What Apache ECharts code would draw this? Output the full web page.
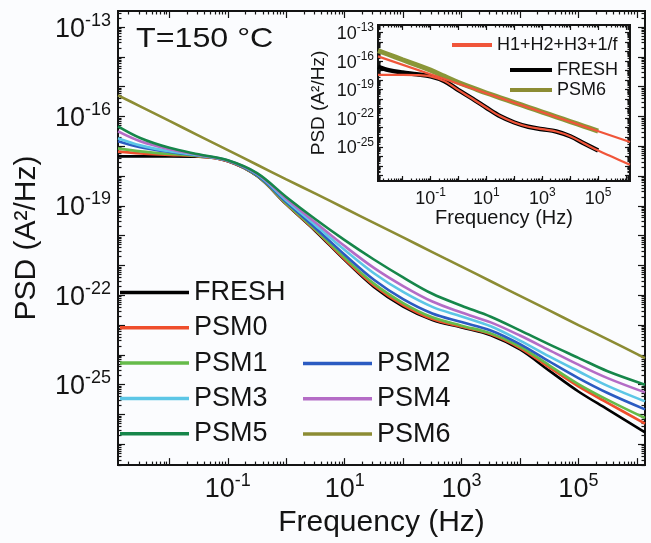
<!DOCTYPE html>
<html><head><meta charset="utf-8">
<script src="https://cdn.jsdelivr.net/npm/echarts@6/dist/echarts.min.js"></script>
<style>html,body{margin:0;padding:0;background:#fbfcfe}#c{width:651px;height:543px}</style>
</head><body><div id="c"></div>
<script>
// ---- data (log10 of frequency in Hz, log10 of PSD in A^2/Hz) ----
const logFreq = [-2.88,-2.5,-2,-1.5,-1,-0.5,0,0.5,1,1.5,2,2.5,3,3.5,4,4.5,5,5.5,6.14];
const fresh = [-17.34,-17.34,-17.34,-17.35,-17.5,-18.0,-18.95,-19.85,-20.82,-21.72,-22.38,-22.83,-23.08,-23.34,-23.82,-24.53,-25.23,-25.83,-26.6];
const psm0  = [-17.18,-17.24,-17.29,-17.34,-17.50,-17.99,-18.94,-19.83,-20.79,-21.67,-22.33,-22.80,-23.06,-23.31,-23.77,-24.42,-25.06,-25.61,-26.31];
const psm1  = [-17.07,-17.17,-17.26,-17.33,-17.49,-17.99,-18.92,-19.80,-20.74,-21.61,-22.26,-22.74,-23.02,-23.28,-23.72,-24.35,-24.98,-25.51,-26.12];
const psm2  = [-16.83,-17.03,-17.19,-17.31,-17.49,-17.97,-18.87,-19.74,-20.64,-21.48,-22.13,-22.61,-22.90,-23.18,-23.64,-24.22,-24.78,-25.28,-25.83];
const psm3  = [-16.73,-16.97,-17.17,-17.30,-17.48,-17.94,-18.82,-19.65,-20.48,-21.26,-21.89,-22.39,-22.71,-23.04,-23.52,-24.05,-24.55,-25.04,-25.56];
const psm4  = [-16.50,-16.83,-17.10,-17.29,-17.48,-17.92,-18.76,-19.56,-20.35,-21.08,-21.69,-22.21,-22.58,-22.91,-23.35,-23.84,-24.33,-24.78,-25.26];
const psm5  = [-16.33,-16.72,-17.05,-17.27,-17.47,-17.90,-18.70,-19.45,-20.15,-20.80,-21.40,-21.95,-22.35,-22.72,-23.18,-23.65,-24.10,-24.55,-25.00];
const psm6  = [-15.29,-15.66,-16.15,-16.64,-17.13,-17.62,-18.11,-18.59,-19.08,-19.57,-20.06,-20.55,-21.04,-21.53,-22.02,-22.51,-23.00,-23.48,-24.11];

// inset
const insetFreq  = [-2.88,-2.5,-2,-1.5,-1,-0.5,0,0.5,1,1.5,2,2.5,3,3.5,4,4.5,5];
const insetFresh = [-16.6,-16.95,-17.2,-17.38,-17.6,-18.1,-19.05,-19.95,-20.9,-21.8,-22.45,-22.9,-23.15,-23.4,-23.9,-24.65,-25.4];
const insetPsm6  = [-14.9,-15.3,-15.85,-16.4,-16.95,-17.6,-18.25,-18.8,-19.35,-19.85,-20.35,-20.85,-21.35,-21.85,-22.35,-22.85,-23.35];
const fitLowerFreq = [-2.88,-2.5,-2,-1.5,-1,-0.5,0,0.5,1,1.5,2,2.5,3,3.5,4,4.5,5,5.5,6.14];
const fitLower = [-17.45,-17.45,-17.45,-17.47,-17.6,-18.1,-19.05,-19.95,-20.9,-21.8,-22.45,-22.9,-23.15,-23.4,-23.9,-24.65,-25.4,-26.05,-26.9];
const fitUpperFreq = [-2.88,1.5,6.14];
const fitUpper = [-15.5,-19.87,-24.5];

// tick labels (exponents)
const mainXLabels = [-1,1,3,5];
const mainYLabels = [-13,-16,-19,-22,-25];
const insetXLabels = [-1,1,3,5];
const insetYLabels = [-13,-16,-19,-22,-25];

// ---- helpers ----
const FONT = '"Liberation Sans", Arial, Helvetica, sans-serif';
const INK = '#141414';
const zip = (xs, ys) => xs.map((x, i) => [x, ys[i]]);
function decades(lo, hi){ const r=[]; for(let n=Math.ceil(lo); n<=Math.floor(hi); n++) r.push(n); return r; }
function minors(lo, hi){ const r=[]; for(let n=Math.floor(lo); n<=Math.ceil(hi); n++){ for(let k=2;k<=9;k++){ const v=n+Math.log10(k); if(v>lo && v<hi) r.push(v);} } return r; }

const MX=[-2.88,6.14], MY=[-27.7,-12.46];
const IX=[-2.88,6.14], IY=[-28.6,-12.2];

function axis(grid, pos, ext, ticks, len, lw, extra){
  return Object.assign({
    type:'value', gridIndex:grid, position:pos, min:ext[0], max:ext[1],
    splitLine:{show:false},
    axisLine:{show:true, onZero:false, lineStyle:{color:INK, width:lw}},
    axisTick:{show:true, inside:true, length:len, customValues:ticks, lineStyle:{color:INK, width:1.2}},
    axisLabel:{show:false}
  }, extra||{});
}
function supLabel(vals, bs, ss, margin){
  return {show:true, customValues:vals, margin:margin,
    formatter: v => '{b|10}{s|' + Math.round(v) + '}',
    rich:{ b:{fontSize:bs, lineHeight:Math.round(bs*1.15), fontFamily:FONT, color:INK, verticalAlign:'bottom'},
           s:{fontSize:ss, lineHeight:Math.round(ss*0.95), fontFamily:FONT, color:INK, verticalAlign:'top'} } };
}

const xAxes = [
  axis(0,'bottom',MX,decades(MX[0],MX[1]),7,2,{axisLabel:supLabel(mainXLabels,27,18,7),
     name:'Frequency (Hz)', nameLocation:'middle', nameGap:41, nameTextStyle:{fontSize:30, fontFamily:FONT, color:INK}}),
  axis(0,'bottom',MX,minors(MX[0],MX[1]),3.5,2),
  axis(0,'top',MX,decades(MX[0],MX[1]),7,2),
  axis(0,'top',MX,minors(MX[0],MX[1]),3.5,2),
  axis(1,'bottom',IX,decades(IX[0],IX[1]),5,2,{axisLabel:supLabel(insetXLabels,18,12,6),
     name:'Frequency (Hz)', nameLocation:'middle', nameGap:27, nameTextStyle:{fontSize:20, fontFamily:FONT, color:INK}}),
  axis(1,'bottom',IX,minors(IX[0],IX[1]),2.5,2),
  axis(1,'top',IX,decades(IX[0],IX[1]),5,2),
  axis(1,'top',IX,minors(IX[0],IX[1]),2.5,2)
];
const yAxes = [
  axis(0,'left',MY,decades(MY[0],MY[1]),7,2,{axisLabel:supLabel(mainYLabels,27,18,7),
     name:'PSD (A²/Hz)', nameLocation:'middle', nameGap:76, nameTextStyle:{fontSize:30, fontFamily:FONT, color:INK}}),
  axis(0,'left',MY,minors(MY[0],MY[1]),3.5,2),
  axis(0,'right',MY,decades(MY[0],MY[1]),7,2),
  axis(0,'right',MY,minors(MY[0],MY[1]),3.5,2),
  axis(1,'left',IY,decades(IY[0],IY[1]),5,2,{axisLabel:supLabel(insetYLabels,18,12,4),
     name:'PSD (A²/Hz)', nameLocation:'middle', nameGap:50, nameTextStyle:{fontSize:19, fontFamily:FONT, color:INK}}),
  axis(1,'left',IY,minors(IY[0],IY[1]),2.5,2),
  axis(1,'right',IY,decades(IY[0],IY[1]),5,2),
  axis(1,'right',IY,minors(IY[0],IY[1]),2.5,2)
];

function line(name, xs, ys, color, width, grid){
  return {type:'line', name:name, xAxisIndex:grid===1?4:0, yAxisIndex:grid===1?4:0,
    data:zip(xs,ys), smooth:0.35, showSymbol:false, symbol:'none',
    lineStyle:{color:color, width:width}, itemStyle:{color:color}, silent:true};
}
const C = {FRESH:'#000000', PSM0:'#ef4e2c', PSM1:'#66bb4a', PSM2:'#2b5bc2', PSM3:'#5cc6e6', PSM4:'#b46cc6', PSM5:'#16864a', PSM6:'#8c8c34'};

const series = [
  line('FRESH',logFreq,fresh,C.FRESH,2.6,0),
  line('PSM0',logFreq,psm0,C.PSM0,2.6,0),
  line('PSM1',logFreq,psm1,C.PSM1,2.6,0),
  line('PSM2',logFreq,psm2,C.PSM2,2.6,0),
  line('PSM3',logFreq,psm3,C.PSM3,2.6,0),
  line('PSM4',logFreq,psm4,C.PSM4,2.6,0),
  line('PSM5',logFreq,psm5,C.PSM5,2.6,0),
  line('PSM6',logFreq,psm6,C.PSM6,2.6,0),
  line('PSM6',insetFreq,insetPsm6,'#8a9638',5,1),
  line('FRESH',insetFreq,insetFresh,'#000000',4.5,1),
  line('H1+H2+H3+1/f',fitLowerFreq,fitLower,'#f0553a',2.2,1),
  line('H1+H2+H3+1/f',fitUpperFreq,fitUpper,'#f0553a',2.2,1)
];

const legText = (fs) => ({fontSize:fs, lineHeight:fs, fontFamily:FONT, color:INK});
const option = {
  animation:false,
  backgroundColor:'#fbfcfe',
  grid:[
    {left:118, top:11, width:527, height:457},
    {left:378, top:25, width:252, height:156}
  ],
  xAxis:xAxes, yAxis:yAxes,
  legend:[
    {data:['FRESH','PSM0','PSM1','PSM3','PSM5'], orient:'vertical', left:120, top:279, padding:0,
     itemWidth:69, itemHeight:3.5, itemGap:8.3, icon:'rect', selectedMode:false, textStyle:legText(27)},
    {data:['PSM2','PSM4','PSM6'], orient:'vertical', left:303, top:350, padding:0,
     itemWidth:69, itemHeight:3.5, itemGap:8.3, icon:'rect', selectedMode:false, textStyle:legText(27)},
    {data:['H1+H2+H3+1/f'], orient:'vertical', left:452, top:36, padding:0,
     itemWidth:40, itemHeight:4, icon:'rect', selectedMode:false, textStyle:legText(18)},
    {data:['FRESH','PSM6'], orient:'vertical', left:510, top:61, padding:0,
     itemWidth:42, itemHeight:4, itemGap:2, icon:'rect', selectedMode:false, textStyle:legText(18)}
  ],
  graphic:[{type:'text', left:136, top:25, scaleX:1.15, style:{text:'T=150 °C', font:'28px "Liberation Sans", Arial, sans-serif', fill:INK}}],
  series:series
};
const chart = echarts.init(document.getElementById('c'), null, {renderer:'canvas'});
chart.setOption(option);
</script></body></html>
